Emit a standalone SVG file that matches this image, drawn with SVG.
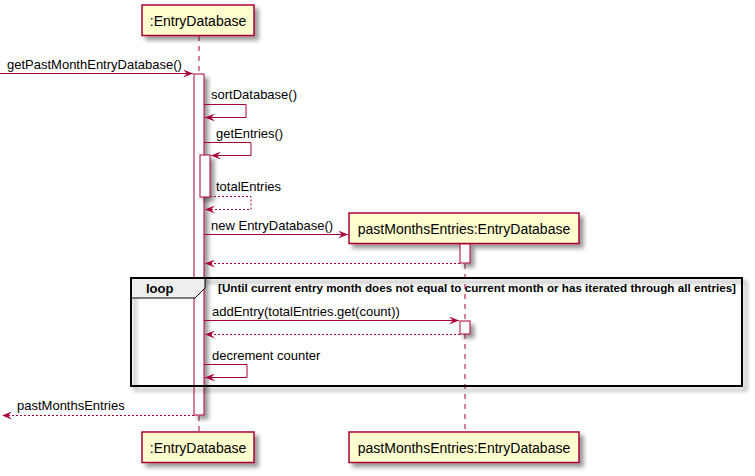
<svg xmlns="http://www.w3.org/2000/svg" width="755" height="476" viewBox="0 0 755 476">
<defs>
<filter id="sh" x="-1" y="-1" width="300%" height="300%">
<feGaussianBlur result="b" stdDeviation="2"/>
<feColorMatrix in="b" result="c" type="matrix" values="0 0 0 0 0 0 0 0 0 0 0 0 0 0 0 0 0 0 .4 0"/>
<feOffset dx="4" dy="4" in="c" result="o"/>
<feBlend in="SourceGraphic" in2="o" mode="normal"/>
</filter>
<marker id="ah" viewBox="0 0 10 8" refX="10" refY="4" markerWidth="10" markerHeight="8" markerUnits="userSpaceOnUse" orient="auto">
<polygon points="0,0 10,4 0,8 4,4" fill="#A80036"/>
</marker>
<style>
.part{fill:#FEFECE;stroke:#A80036;stroke-width:1.5}
.pt{font-family:"Liberation Sans",Arial,sans-serif;font-size:14px;fill:#000}
.life{stroke:#A80036;stroke-width:1;stroke-dasharray:5,5;fill:none}
.act{fill:#FFFFFF;stroke:#A80036;stroke-width:1}
.msg{stroke:#A80036;stroke-width:1;fill:none}
.ret{stroke:#A80036;stroke-width:1;fill:none;stroke-dasharray:2,2}
.mt{font-family:"Liberation Sans",Arial,sans-serif;font-size:13px;fill:#000}
.bt{font-family:"Liberation Sans",Arial,sans-serif;font-weight:bold;fill:#000}
</style>
</defs>
<rect width="755" height="476" fill="#FFFFFF"/>

<g id="lifelines">
<line class="life" x1="199" y1="36" x2="199" y2="432"/>
<line class="life" x1="465" y1="244" x2="465" y2="432"/>
</g>

<g id="participant-entrydb-top">
<rect class="part" x="142" y="5" width="112" height="30.5" filter="url(#sh)"/>
<text class="pt" x="198" y="26" text-anchor="middle">:EntryDatabase</text>
</g>
<g id="participant-entrydb-bottom">
<rect class="part" x="142" y="432" width="112" height="30.5" filter="url(#sh)"/>
<text class="pt" x="198" y="453" text-anchor="middle">:EntryDatabase</text>
</g>
<g id="participant-past-top">
<rect class="part" x="349" y="213" width="230" height="30.5" filter="url(#sh)"/>
<text class="pt" x="464" y="234" text-anchor="middle">pastMonthsEntries:EntryDatabase</text>
</g>
<g id="participant-past-bottom">
<rect class="part" x="349" y="432" width="230" height="30.5" filter="url(#sh)"/>
<text class="pt" x="464" y="453" text-anchor="middle">pastMonthsEntries:EntryDatabase</text>
</g>

<g id="activations">
<rect class="act" x="194" y="74" width="10" height="341" filter="url(#sh)"/>
<rect class="act" x="200" y="155" width="10" height="42" filter="url(#sh)"/>
<rect class="act" x="460" y="244" width="10" height="19" filter="url(#sh)"/>
<rect class="act" x="460" y="321" width="10" height="13" filter="url(#sh)"/>
</g>

<g id="loop-frame">
<rect x="131" y="278" width="611" height="108" fill="none" stroke="#000000" stroke-width="2" filter="url(#sh)"/>
<polygon points="131,278 205,278 205,288 195,298 131,298" fill="#EEEEEE" stroke="#000000" stroke-width="1"/>
<rect x="131" y="278" width="611" height="108" fill="none" stroke="#000000" stroke-width="2"/>
<text class="bt" x="146" y="293" font-size="13">loop</text>
<text class="bt" x="218" y="292" font-size="11.5" textLength="518" lengthAdjust="spacingAndGlyphs">[Until current entry month does not equal to current month or has iterated through all entries]</text>
</g>

<g id="connectors">
<line class="msg" x1="0" y1="73.5" x2="193" y2="73.5" marker-end="url(#ah)"/>
<text class="mt" x="7" y="69">getPastMonthEntryDatabase()</text>

<polyline class="msg" points="204,104.5 246,104.5 246,117.5 205,117.5" marker-end="url(#ah)"/>
<text class="mt" x="211" y="99">sortDatabase()</text>

<polyline class="msg" points="204,142.5 251,142.5 251,155.5 211,155.5" marker-end="url(#ah)"/>
<text class="mt" x="216" y="138">getEntries()</text>

<polyline class="ret" points="210,196.5 251,196.5 251,209.5 205,209.5" marker-end="url(#ah)"/>
<text class="mt" x="216" y="191">totalEntries</text>

<line class="msg" x1="204" y1="234.5" x2="348" y2="234.5" marker-end="url(#ah)"/>
<text class="mt" x="211" y="230">new EntryDatabase()</text>

<line class="ret" x1="460" y1="263.5" x2="205" y2="263.5" marker-end="url(#ah)"/>

<line class="msg" x1="204" y1="320.5" x2="459" y2="320.5" marker-end="url(#ah)"/>
<text class="mt" x="212" y="316">addEntry(totalEntries.get(count))</text>

<line class="ret" x1="460" y1="334.5" x2="205" y2="334.5" marker-end="url(#ah)"/>

<polyline class="msg" points="204,364.5 247,364.5 247,377.5 205,377.5" marker-end="url(#ah)"/>
<text class="mt" x="212" y="360">decrement counter</text>

<line class="ret" x1="194" y1="415.5" x2="2" y2="415.5" marker-end="url(#ah)"/>
<text class="mt" x="17" y="410">pastMonthsEntries</text>
</g>
</svg>
